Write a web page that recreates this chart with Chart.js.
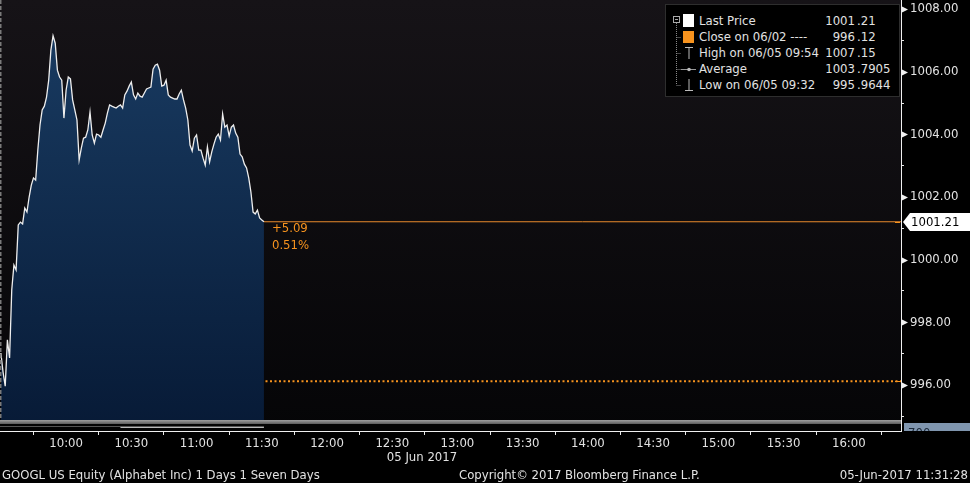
<!DOCTYPE html>
<html><head><meta charset="utf-8">
<script src="https://cdn.jsdelivr.net/npm/chart.js@4/dist/chart.umd.min.js"></script>
<style>
html,body{margin:0;padding:0;background:#000;}
#wrap{position:relative;width:970px;height:483px;overflow:hidden;background:#000;font-family:'DejaVu Sans Condensed','DejaVu Sans',sans-serif;color:#e2e2e2;}
canvas{position:absolute;left:0;top:0;}
.t{position:absolute;white-space:nowrap;font-size:13px;line-height:16px;}
#legend{position:absolute;left:665px;top:4px;width:235px;height:93px;background:#000;border:1px solid #2e2e2e;box-sizing:border-box;}
#legend svg{position:absolute;left:0;top:0;}
</style></head>
<body><div id="wrap"><canvas id="c" width="970" height="483"></canvas>
<div id="legend"></div>
<div class="t" id="dateLbl" style="left:422px;top:449px;transform:translateX(-50%)">05 Jun 2017</div>
<div class="t" style="left:2px;top:467px">GOOGL US Equity (Alphabet Inc) 1 Days 1 Seven Days</div>
<div class="t" style="left:459px;top:467px">Copyright© 2017 Bloomberg Finance L.P.</div>
<div class="t" style="right:2px;top:467px">05-Jun-2017 11:31:28</div>
</div>
<script>
// ---- data (one price per minute from 09:30) ----
const sessionStart = "09:30";
const prices = [
997.02, 996.41, 995.96, 997.44, 996.86, 999.03, 999.83, 999.67, 1001.11, 1001.20,
1001.14, 1001.65, 1001.52, 1002.00, 1002.38, 1002.61, 1002.54, 1003.50, 1004.30, 1004.78,
1004.90, 1005.19, 1005.73, 1006.69, 1007.15, 1006.91, 1006.05, 1005.83, 1005.73, 1004.52,
1005.41, 1005.83, 1005.77, 1005.10, 1004.78, 1004.46, 1003.18, 1003.56, 1003.88, 1003.91,
1004.14, 1004.71, 1003.98, 1003.72, 1004.01, 1003.98, 1003.91, 1004.14, 1004.36, 1004.68,
1004.94, 1004.90, 1004.87, 1004.84, 1004.90, 1004.94, 1004.84, 1005.26, 1005.38, 1005.54,
1005.67, 1005.26, 1005.13, 1005.32, 1005.22, 1005.19, 1005.32, 1005.45, 1005.48, 1005.51,
1006.08, 1006.21, 1006.24, 1006.05, 1005.54, 1005.57, 1005.73, 1005.26, 1005.19, 1005.16,
1005.13, 1005.13, 1005.29, 1005.41, 1005.10, 1004.84, 1004.46, 1003.66, 1003.47, 1003.88,
1003.98, 1003.50, 1003.50, 1003.24, 1003.02, 1003.60, 1003.12, 1003.44, 1003.69, 1003.91,
1004.01, 1003.82, 1004.65, 1004.23, 1004.30, 1003.95, 1004.23, 1004.30, 1004.04, 1003.91,
1003.37, 1003.28, 1003.05, 1002.93, 1002.61, 1002.16, 1001.52, 1001.46, 1001.58, 1001.33,
1001.27, 1001.21
];
const prevClose = 996.12;
const lastPrice = 1001.21;
const xTickLabels = ["10:00","10:30","11:00","11:30","12:00","12:30","13:00","13:30","14:00","14:30","15:00","15:30","16:00"];
const xMinorTickLabels = ["09:45","10:15","10:45","11:15","11:45","12:15","12:45","13:15","13:45","14:15","14:45","15:15","15:45","16:15"];
const yTickValues = [996, 998, 1000, 1002, 1004, 1006, 1008];
const yMinorTickValues = [995, 997, 999, 1001, 1003, 1005, 1007];
const legendLabels = ["Last Price", "Close on 06/02 ----", "High on 06/05 09:54", "Average", "Low on 06/05 09:32"];
const legendValues = ["1001.21", "996.12", "1007.15", "1003.7905", "995.9644"];

// ---- helpers ----
function toMin(s){const [h,m]=s.split(':').map(Number);const [h0,m0]=sessionStart.split(':').map(Number);return (h*60+m)-(h0*60+m0);}
function toLabel(v){const [h0,m0]=sessionStart.split(':').map(Number);const t=h0*60+m0+v;const h=Math.floor(t/60),m=t%60;return String(h).padStart(2,'0')+':'+String(m).padStart(2,'0');}
const xMajor = xTickLabels.map(toMin);
const xMinor = xMinorTickLabels.map(toMin);
const xMin = -0.4, xMax = 414;
const yMin = 994.53, yMax = 1008.29;
const lastMin = prices.length - 1;
const ORANGE = '#f7931e';
const FONT = "'DejaVu Sans Condensed','DejaVu Sans',sans-serif";

// ---- legend (HTML) ----
(function(){
  const lg = document.getElementById('legend');
  const decCol = 191; // decimal column inside box
  let html = '<svg width="235" height="93">'+
    '<rect x="7.5" y="11.5" width="6" height="6" fill="none" stroke="#aaa"/>'+
    '<line x1="9" y1="14.5" x2="12" y2="14.5" stroke="#aaa"/>'+
    '<line x1="10.5" y1="18" x2="10.5" y2="80" stroke="#888" stroke-dasharray="1,1"/>';
  [32,48,64,80].forEach(y=>{ html += '<line x1="10.5" y1="'+(y+0.5)+'" x2="15" y2="'+(y+0.5)+'" stroke="#888" stroke-dasharray="1,1"/>'; });
  html += '<rect x="17" y="9" width="11" height="13" fill="#fff"/>'+
    '<rect x="17" y="26" width="11" height="12" fill="'+ORANGE+'"/>'+
    '<line x1="19" y1="42.5" x2="27" y2="42.5" stroke="#bbb"/><line x1="23" y1="42" x2="23" y2="54" stroke="#bbb"/>'+
    '<line x1="15" y1="64.5" x2="30" y2="64.5" stroke="#999"/><circle cx="23" cy="64.5" r="1.8" fill="#bbb"/>'+
    '<line x1="23" y1="74" x2="23" y2="86" stroke="#bbb"/><line x1="19" y1="85.5" x2="27" y2="85.5" stroke="#bbb"/>'+
    '</svg>';
  legendLabels.forEach((lab,i)=>{
    const top = 8 + i*16;
    const v = legendValues[i]; const p = v.indexOf('.');
    html += '<div class="t" style="left:33px;top:'+top+'px">'+lab+'</div>';
    html += '<div class="t" style="right:'+(235-decCol)+'px;top:'+top+'px">'+v.slice(0,p)+'</div>';
    html += '<div class="t" style="left:'+decCol+'px;top:'+top+'px">'+v.slice(p)+'</div>';
  });
  lg.innerHTML = html;
})();

// ---- plugins ----
const bgPlugin = {
  id:'bg',
  beforeDraw(chart){
    const {ctx, chartArea:ca} = chart;
    ctx.save();
    ctx.fillStyle='#000'; ctx.fillRect(0,0,chart.width,chart.height);
    const g = ctx.createLinearGradient(0,ca.top,0,ca.bottom);
    g.addColorStop(0,'#161317'); g.addColorStop(1,'#050507');
    ctx.fillStyle=g; ctx.fillRect(ca.left,ca.top,ca.right-ca.left,ca.bottom-ca.top);
    ctx.restore();
  }
};
const overlayPlugin = {
  id:'overlay',
  afterDatasetsDraw(chart){
    const {ctx, chartArea:ca, scales} = chart;
    const xs = scales.x, ys = scales.y;
    ctx.save();
    // session start dashed marker
    ctx.strokeStyle='#7a7a7a'; ctx.lineWidth=1.5; ctx.setLineDash([4,2]);
    ctx.beginPath(); ctx.moveTo(ca.left+0.75,ca.top); ctx.lineTo(ca.left+0.75,ca.bottom-11); ctx.stroke();
    ctx.setLineDash([]);
    // lower panel strip
    const b = ca.bottom;
    const g = ctx.createLinearGradient(0,b-11,0,b-7);
    g.addColorStop(0,'#a0a0a0'); g.addColorStop(1,'#5c5c5c');
    ctx.fillStyle=g; ctx.fillRect(ca.left,b-11,ca.right-ca.left,4);
    ctx.fillStyle='#040404'; ctx.fillRect(ca.left,b-7,ca.right-ca.left,7);
    ctx.strokeStyle='#555'; ctx.lineWidth=1;
    ctx.beginPath(); ctx.moveTo(ca.left,b-4.5); ctx.lineTo(xs.getPixelForValue(lastMin),b-4.5); ctx.stroke();
    ctx.strokeStyle='#bbb';
    ctx.beginPath(); ctx.moveTo(xs.getPixelForValue(55),b-3.5); ctx.lineTo(xs.getPixelForValue(lastMin),b-3.5); ctx.stroke();
    // y axis triangles
    ctx.fillStyle='#f0f0f0';
    yTickValues.forEach(v=>{
      const y = Math.round(ys.getPixelForValue(v))+0.5;
      ctx.beginPath(); ctx.moveTo(ca.right,y-3.5); ctx.lineTo(ca.right+7,y); ctx.lineTo(ca.right,y+3.5); ctx.closePath(); ctx.fill();
    });
    // orange ticks on the axis
    ctx.strokeStyle=ORANGE; ctx.lineWidth=1;
    [lastPrice, prevClose].forEach(v=>{
      const y = Math.round(ys.getPixelForValue(v))+0.5;
      ctx.beginPath(); ctx.moveTo(ca.right-6,y); ctx.lineTo(ca.right-1,y); ctx.stroke();
    });
    // last price label box
    const ly = Math.round(ys.getPixelForValue(lastPrice));
    ctx.fillStyle='#ffffff';
    ctx.beginPath();
    ctx.moveTo(ca.right+2,ly); ctx.lineTo(ca.right+9,ly-9); ctx.lineTo(chart.width,ly-9);
    ctx.lineTo(chart.width,ly+9); ctx.lineTo(ca.right+9,ly+9); ctx.closePath(); ctx.fill();
    ctx.fillStyle='#000'; ctx.font='13px '+FONT; ctx.textBaseline='middle'; ctx.textAlign='left';
    ctx.fillText(lastPrice.toFixed(2), ca.right+10, ly+1);
    // change annotation
    const lx = xs.getPixelForValue(lastMin);
    const chg = lastPrice - prevClose;
    ctx.fillStyle=ORANGE;
    ctx.fillText((chg>=0?'+':'')+chg.toFixed(2), lx+8, ly+7);
    ctx.fillText((chg/prevClose*100).toFixed(2)+'%', lx+8, ly+24);
    // partial lower-panel label
    ctx.save();
    ctx.beginPath(); ctx.rect(ca.right+1,b-8,chart.width-ca.right,8); ctx.clip();
    ctx.fillStyle='#7f95ae'; ctx.fillRect(ca.right+3,b-8,chart.width-ca.right,9);
    ctx.fillStyle='#1c2a3a'; ctx.font='13px '+FONT; ctx.textBaseline='middle';
    ctx.fillText('700', ca.right+7, b+3);
    ctx.restore();
    ctx.restore();
  }
};

// ---- chart ----
Chart.defaults.font.family = FONT;
Chart.defaults.font.size = 13;
Chart.defaults.color = '#e2e2e2';

new Chart(document.getElementById('c'), {
  type:'line',
  data:{
    datasets:[
      {
        label:'Last Price',
        data: prices.map((p,i)=>({x:i,y:p})),
        borderColor:'#eeeeee', borderWidth:1.3, pointRadius:0, tension:0,
        fill:'start',
        backgroundColor:(c)=>{
          const ca=c.chart.chartArea; if(!ca) return '#0e2a4c';
          const g=c.chart.ctx.createLinearGradient(0,ca.top,0,ca.bottom);
          g.addColorStop(0,'#1a3d64'); g.addColorStop(1,'#071a36'); return g;
        },
        order:1
      },
      {
        label:'Close on 06/02',
        data:[{x:xMin,y:prevClose},{x:xMax,y:prevClose}],
        borderColor:ORANGE, borderWidth:2, borderDash:[2,2.5], pointRadius:0, fill:false, order:2
      },
      {
        label:'Last',
        data:[{x:lastMin,y:lastPrice},{x:xMax,y:lastPrice}],
        borderColor:'#e98a2c', borderWidth:1, pointRadius:0, fill:false, order:2
      }
    ]
  },
  options:{
    responsive:false, animation:false, devicePixelRatio:1,
    layout:{padding:0},
    plugins:{legend:{display:false}, tooltip:{enabled:false}},
    scales:{
      x:{
        type:'linear', min:xMin, max:xMax, position:'bottom',
        afterFit:(s)=>{s.height=52; s.paddingLeft=0; s.paddingRight=0;},
        afterBuildTicks:(s)=>{s.ticks=[...xMajor,...xMinor].sort((a,b)=>a-b).map(v=>({value:v}));},
        ticks:{autoSkip:false, maxRotation:0, padding:1, color:'#e2e2e2',
          callback:(v)=> xMajor.includes(v) ? toLabel(v) : ''},
        grid:{drawOnChartArea:false, drawTicks:true, tickLength:4,
          tickColor:(c)=> (c.tick && xMinor.includes(c.tick.value)) ? '#e8e8e8' : 'rgba(0,0,0,0)'},
        border:{color:'#f0f0f0', width:1}
      },
      y:{
        type:'linear', position:'right', min:yMin, max:yMax,
        afterFit:(s)=>{s.width=69; s.paddingTop=0; s.paddingBottom=0;},
        afterBuildTicks:(s)=>{s.ticks=[...yMinorTickValues,...yTickValues].sort((a,b)=>a-b).map(v=>({value:v}));},
        ticks:{autoSkip:false, padding:6, color:'#e2e2e2',
          callback:(v)=> yTickValues.includes(v) ? v.toFixed(2) : ''},
        grid:{drawOnChartArea:false, drawTicks:true, tickLength:3,
          tickColor:(c)=> (c.tick && yMinorTickValues.includes(c.tick.value)) ? '#e8e8e8' : 'rgba(0,0,0,0)'},
        border:{color:'#f0f0f0', width:1}
      }
    }
  },
  plugins:[bgPlugin, overlayPlugin]
});
</script>
</body></html>
